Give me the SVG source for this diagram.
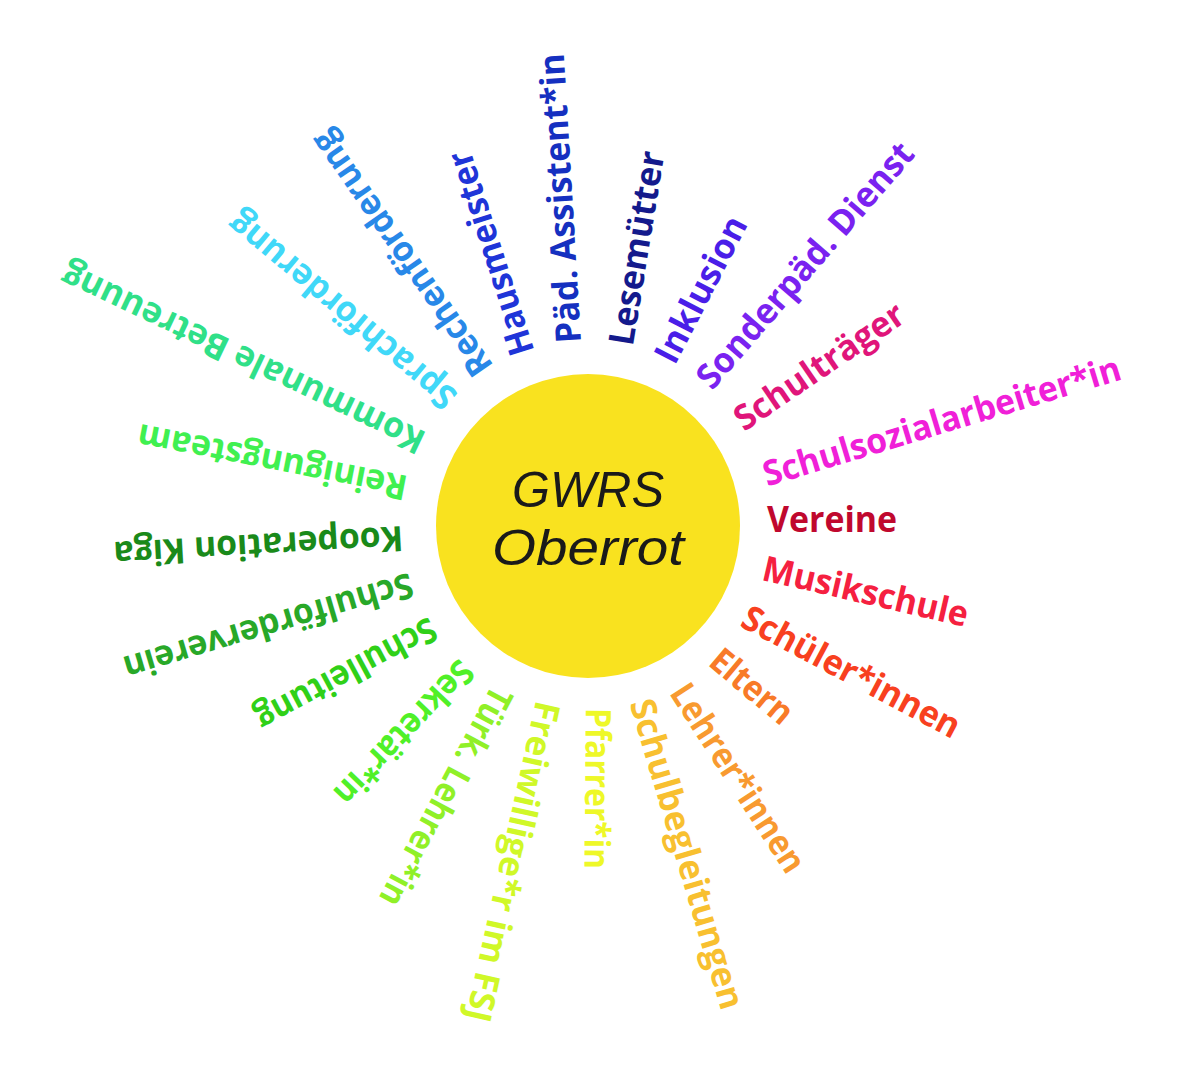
<svg xmlns="http://www.w3.org/2000/svg" width="1181" height="1083" viewBox="0 0 1181 1083">
<style>
.l{font-family:"Open Sans","Noto Sans",sans-serif;font-weight:700;font-size:35px}
.c{font-family:"Liberation Sans","DejaVu Sans",sans-serif;font-style:italic;font-size:50px;fill:#1a1a1a}
</style>
<rect width="1181" height="1083" fill="#ffffff"/>
<g id="sun">
<circle cx="588" cy="526" r="152" fill="#f9e21f"/>
<text class="c" x="588" y="507" text-anchor="middle" textLength="152" lengthAdjust="spacingAndGlyphs">GWRS</text>
<text class="c" x="588" y="565" text-anchor="middle" textLength="192" lengthAdjust="spacingAndGlyphs">Oberrot</text>
</g>
<g id="hausmeister" transform="translate(524,354) rotate(-107.7)"><text class="l" y="11" fill="#1f35d8" textLength="212" lengthAdjust="spacingAndGlyphs">Hausmeister</text></g>
<g id="paed-assistent" transform="translate(570,343) rotate(-93.4)"><text class="l" y="11" fill="#1530c0" textLength="290" lengthAdjust="spacingAndGlyphs">Päd. Assistent*in</text></g>
<g id="lesemuetter" transform="translate(622,345) rotate(-80.7)"><text class="l" y="11" fill="#141a8c" textLength="196" lengthAdjust="spacingAndGlyphs">Lesemütter</text></g>
<g id="inklusion" transform="translate(665,361) rotate(-62.6)"><text class="l" y="11" fill="#4a1ee8" textLength="160" lengthAdjust="spacingAndGlyphs">Inklusion</text></g>
<g id="sonderpaed" transform="translate(704,384) rotate(-49.2)"><text class="l" y="11" fill="#7a22f0" textLength="312" lengthAdjust="spacingAndGlyphs">Sonderpäd. Dienst</text></g>
<g id="schultraeger" transform="translate(738,423) rotate(-34.3)"><text class="l" y="11" fill="#e0157a" textLength="198" lengthAdjust="spacingAndGlyphs">Schulträger</text></g>
<g id="schulsozial" transform="translate(764,476) rotate(-16.8)"><text class="l" y="11" fill="#f020d8" textLength="372" lengthAdjust="spacingAndGlyphs">Schulsozialarbeiter*in</text></g>
<g id="vereine" transform="translate(767,521)"><text class="l" y="11" fill="#c0082e" textLength="130" lengthAdjust="spacingAndGlyphs">Vereine</text></g>
<g id="musikschule" transform="translate(763,569) rotate(13)"><text class="l" y="11" fill="#f52040" textLength="210" lengthAdjust="spacingAndGlyphs">Musikschule</text></g>
<g id="schueler" transform="translate(744,616) rotate(28)"><text class="l" y="11" fill="#f84020" textLength="242" lengthAdjust="spacingAndGlyphs">Schüler*innen</text></g>
<g id="eltern" transform="translate(714,656) rotate(40)"><text class="l" y="11" fill="#f87a28" textLength="97" lengthAdjust="spacingAndGlyphs">Eltern</text></g>
<g id="lehrer" transform="translate(678,687) rotate(57.1)"><text class="l" y="11" fill="#f89a30" textLength="218" lengthAdjust="spacingAndGlyphs">Lehrer*innen</text></g>
<g id="schulbegleitungen" transform="translate(640,700) rotate(73.4)"><text class="l" y="11" fill="#f8c030" textLength="322" lengthAdjust="spacingAndGlyphs">Schulbegleitungen</text></g>
<g id="pfarrer" transform="translate(597,708) rotate(90.5)"><text class="l" y="11" fill="#eef828" textLength="161" lengthAdjust="spacingAndGlyphs">Pfarrer*in</text></g>
<g id="freiwillige" transform="translate(547,702) rotate(102.5)"><text class="l" y="11" fill="#d0f828" textLength="327" lengthAdjust="spacingAndGlyphs">Freiwillige*r im FSJ</text></g>
<g id="tuerk-lehrer" transform="translate(502,689) rotate(118)"><text class="l" y="11" fill="#90f028" textLength="243" lengthAdjust="spacingAndGlyphs">Türk. Lehrer*in</text></g>
<g id="sekretaer" transform="translate(467,665) rotate(133.5)"><text class="l" y="11" fill="#50f028" textLength="185" lengthAdjust="spacingAndGlyphs">Sekretär*in</text></g>
<g id="schulleitung" transform="translate(434,626) rotate(151.8)"><text class="l" y="11" fill="#30d018" textLength="200" lengthAdjust="spacingAndGlyphs">Schulleitung</text></g>
<g id="schulfoerderverein" transform="translate(412,583) rotate(163.5)"><text class="l" y="11" fill="#28a828" textLength="300" lengthAdjust="spacingAndGlyphs">Schulförderverein</text></g>
<g id="kooperation" transform="translate(403,537) rotate(176.8)"><text class="l" y="11" fill="#1a8a1a" textLength="290" lengthAdjust="spacingAndGlyphs">Kooperation Kiga</text></g>
<g id="reinigungsteam" transform="translate(407,487) rotate(191)"><text class="l" y="11" fill="#40f050" textLength="274" lengthAdjust="spacingAndGlyphs">Reinigungsteam</text></g>
<g id="kommunale" transform="translate(423,443) rotate(205.4)"><text class="l" y="11" fill="#30e088" textLength="398" lengthAdjust="spacingAndGlyphs">Kommunale Betreuung</text></g>
<g id="sprachfoerderung" transform="translate(452,402) rotate(220)"><text class="l" y="11" fill="#40d8f8" textLength="286" lengthAdjust="spacingAndGlyphs">Sprachförderung</text></g>
<g id="rechenfoerderung" transform="translate(485,372) rotate(235.2)"><text class="l" y="11" fill="#2888e8" textLength="290" lengthAdjust="spacingAndGlyphs">Rechenförderung</text></g>
</svg>
